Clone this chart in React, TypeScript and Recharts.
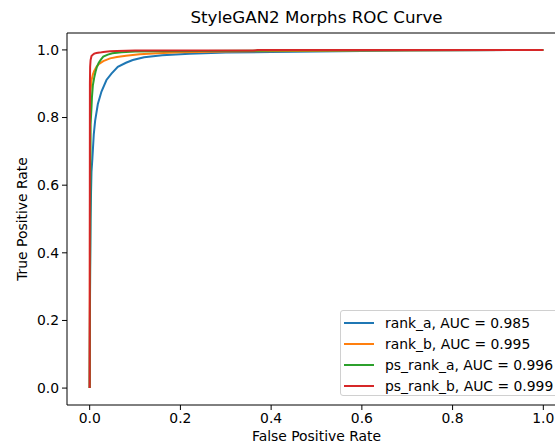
import { LineChart, Line, XAxis, YAxis, ReferenceLine } from "recharts";

// ROC points (false positive rate -> true positive rate)
const rankAFpr = [0, 0.001, 0.002, 0.003, 0.004, 0.006, 0.009, 0.012, 0.018, 0.026, 0.037, 0.048, 0.062, 0.08, 0.095, 0.12, 0.16, 0.22, 0.3, 0.4, 0.55, 0.7, 0.85, 1.0];
const rankATpr = [0, 0.35, 0.5, 0.58, 0.64, 0.68, 0.75, 0.79, 0.84, 0.877, 0.911, 0.93, 0.95, 0.962, 0.97, 0.978, 0.984, 0.989, 0.992, 0.994, 0.996, 0.998, 0.999, 1.0];

const rankBFpr = [0, 0.001, 0.002, 0.004, 0.007, 0.01, 0.015, 0.02, 0.03, 0.045, 0.06, 0.08, 0.11, 0.15, 0.2, 0.3, 0.45, 0.6, 1.0];
const rankBTpr = [0, 0.8, 0.88, 0.91, 0.927, 0.938, 0.95, 0.958, 0.967, 0.975, 0.979, 0.983, 0.987, 0.99, 0.993, 0.995, 0.997, 0.998, 1.0];

const psRankAFpr = [0, 0.002, 0.004, 0.005, 0.007, 0.01, 0.013, 0.016, 0.02, 0.025, 0.03, 0.04, 0.05, 0.07, 0.1, 0.15, 0.25, 0.4, 0.6, 1.0];
const psRankATpr = [0, 0.78, 0.83, 0.86, 0.895, 0.918, 0.936, 0.95, 0.962, 0.972, 0.98, 0.986, 0.99, 0.993, 0.995, 0.996, 0.997, 0.998, 0.999, 1.0];

const psRankBFpr = [0, 0.0005, 0.001, 0.002, 0.004, 0.007, 0.01, 0.015, 0.022, 0.03, 0.045, 0.06, 0.1, 0.36, 0.37, 1.0];
const psRankBTpr = [0, 0.9, 0.95, 0.97, 0.982, 0.986, 0.989, 0.991, 0.992, 0.994, 0.996, 0.997, 0.998, 0.998, 1.0, 1.0];

const seriesNames = ["rank_a, AUC = 0.985", "rank_b, AUC = 0.995", "ps_rank_a, AUC = 0.996", "ps_rank_b, AUC = 0.999"];
const COLORS = ["#1f77b4", "#ff7f0e", "#2ca02c", "#d62728"];
const TICKS = [0, 0.2, 0.4, 0.6, 0.8, 1.0];

const toPoints = (fpr: number[], tpr: number[]) => fpr.map((f, i) => ({ fpr: f, tpr: tpr[i] }));

const series = [
  toPoints(rankAFpr, rankATpr),
  toPoints(rankBFpr, rankBTpr),
  toPoints(psRankAFpr, psRankATpr),
  toPoints(psRankBFpr, psRankBTpr),
];

const FONT = "'DejaVu Sans', sans-serif";
const tickStyle = { fontSize: 13.9, fill: "#000", fontFamily: FONT };

function LegendBox() {
  return (
    <div
      style={{
        position: "absolute",
        left: 340,
        top: 310,
        width: 240,
        height: 86,
        border: "1px solid #d0d0d0",
        borderRadius: 3,
        background: "rgba(255,255,255,0.8)",
        padding: "0 0 0 3px",
        boxSizing: "border-box",
        fontSize: 13.9,
        color: "#000",
      }}
    >
      {seriesNames.map((name, i) => (
        <div key={name} style={{ display: "flex", alignItems: "center", height: 21, marginTop: i === 0 ? 1 : 0 }}>
          <div style={{ width: 30, height: 2, background: COLORS[i], marginRight: 11 }} />
          <span>{name}</span>
        </div>
      ))}
    </div>
  );
}

export default function App() {
  return (
    <div
      style={{
        position: "absolute",
        left: 0,
        top: 0,
        width: 555,
        height: 446,
        overflow: "hidden",
        background: "#fff",
        fontFamily: FONT,
      }}
    >
      <div
        style={{
          position: "absolute",
          left: 67,
          width: 499,
          top: 7,
          textAlign: "center",
          fontSize: 16.7,
          color: "#000",
        }}
      >
        StyleGAN2 Morphs ROC Curve
      </div>
      <div
        style={{
          position: "absolute",
          left: 67,
          width: 499,
          top: 428,
          textAlign: "center",
          fontSize: 13.9,
          color: "#000",
        }}
      >
        False Positive Rate
      </div>
      <div
        style={{
          position: "absolute",
          left: 22,
          top: 219,
          transform: "translate(-50%, -50%) rotate(-90deg)",
          whiteSpace: "nowrap",
          fontSize: 13.9,
          color: "#000",
        }}
      >
        True Positive Rate
      </div>
      <LineChart width={580} height={446} margin={{ top: 33, right: 14, bottom: 0, left: 0 }}>
        <XAxis
          dataKey="fpr"
          type="number"
          domain={[-0.05, 1.05]}
          allowDataOverflow
          ticks={TICKS}
          tickFormatter={(v) => Number(v).toFixed(1)}
          tick={tickStyle}
          tickSize={5}
          tickMargin={3}
          height={41}
          stroke="#000"
          tickLine={{ stroke: "#000" }}
        />
        <YAxis
          type="number"
          domain={[-0.05, 1.05]}
          allowDataOverflow
          ticks={TICKS}
          tickFormatter={(v) => Number(v).toFixed(1)}
          tick={tickStyle}
          tickSize={5}
          tickMargin={3}
          width={67}
          stroke="#000"
          tickLine={{ stroke: "#000" }}
        />
        <ReferenceLine y={1.05} stroke="#000" strokeWidth={1} />
        <ReferenceLine x={1.05} stroke="#000" strokeWidth={1} />
        {series.map((pts, i) => (
          <Line
            key={seriesNames[i]}
            data={pts}
            dataKey="tpr"
            name={seriesNames[i]}
            type="linear"
            stroke={COLORS[i]}
            strokeWidth={2}
            dot={false}
            isAnimationActive={false}
          />
        ))}
      </LineChart>
      <LegendBox />
    </div>
  );
}
